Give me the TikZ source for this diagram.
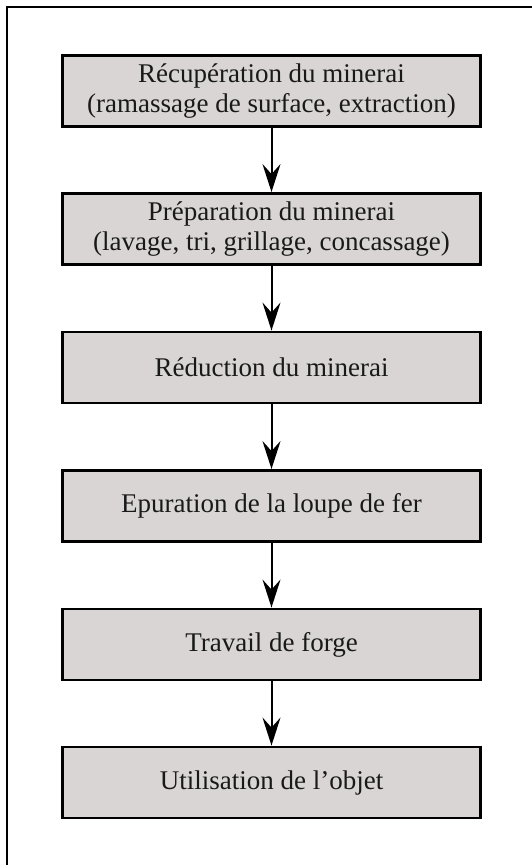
\documentclass[tikz,border=0pt]{standalone}
\usepackage{fontspec}
\setmainfont{Liberation Serif}
\usetikzlibrary{arrows.meta}
\definecolor{boxfill}{RGB}{218,213,213}
\begin{document}
\begin{tikzpicture}[x=1pt,y=-1pt,
  stagebox/.style={draw=black,line width=2.9pt,fill=boxfill,minimum width=418pt,minimum height=71pt,
    inner sep=0pt,align=center,font=\fontsize{27pt}{30pt}\selectfont,text=black!90},
  flowarrow/.style={line width=2pt,-{Stealth[length=28pt,width=18pt,inset=10pt]}}]
\useasboundingbox (0,0) rectangle (532,865);
\draw[line width=2.8pt] (7,880) -- (7,7) -- (545,7);
\node[stagebox] (n1) at (271.5,91) {Récupération du minerai\\(ramassage de surface, extraction)};
\node[stagebox] (n2) at (271.5,229) {Préparation du minerai\\(lavage, tri, grillage, concassage)};
\node[stagebox] (n3) at (271.5,367.5) {Réduction du minerai};
\node[stagebox] (n4) at (271.5,506) {Epuration de la loupe de fer};
\node[stagebox] (n5) at (271.5,644.5) {Travail de forge};
\node[stagebox] (n6) at (271.5,782.5) {Utilisation de l’objet};
\draw[flowarrow] (n1.south) -- (n2.north);
\draw[flowarrow] (n2.south) -- (n3.north);
\draw[flowarrow] (n3.south) -- (n4.north);
\draw[flowarrow] (n4.south) -- (n5.north);
\draw[flowarrow] (n5.south) -- (n6.north);
\end{tikzpicture}
\end{document}
